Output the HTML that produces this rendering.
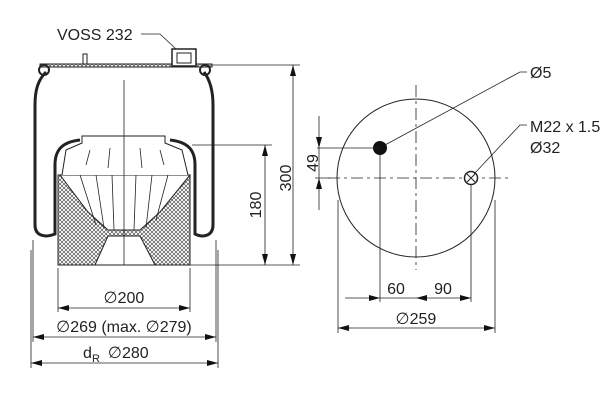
<!DOCTYPE html>
<html><head><meta charset="utf-8"><style>body{margin:0;background:#fff}svg{display:block}text{font-family:"Liberation Sans","DejaVu Sans",sans-serif;fill:#222}</style></head><body>
<svg width="600" height="400" viewBox="0 0 600 400" xmlns="http://www.w3.org/2000/svg">
<defs>
<pattern id="h" width="4" height="4" patternUnits="userSpaceOnUse"><path d="M0 0L4 4M4 0L0 4" stroke="#333" stroke-width="0.6"/></pattern>
</defs>
<g stroke="#222" fill="none">
<!-- piston hatched -->
<path d="M58 175 L190 175 L190 265 L58 265 Z" fill="url(#h)" stroke-width="1"/>
<path d="M60 175 L190 175 L160 212 L140 230 L108 230 L88 212 Z" fill="#fff" stroke-width="1"/>
<path d="M95 265 L108 236 L140 236 L155 265 Z" fill="#fff" stroke-width="1"/>
<path d="M62 175 L66 150 L82 143 L82 136 L165 136 L165 143 L182 150 L188 175" fill="#fff" stroke-width="1"/>
<path d="M80 175L96 225M96 175L104 228M112 175L114 230M136 175L134 230M152 175L146 228M168 175L156 220M90 150L86 165M110 148L108 168M140 148L142 168M160 150L164 165" stroke-width="0.8"/>
<!-- bellows -->
<path d="M46 72 C38 80,35 90,35 105 L35 225 C35 236,45 238,55 234 L55 165 C55 150,62 142,80 140" stroke-width="3"/>
<path d="M204 72 C210 80,213 90,213 105 L213 225 C213 236,203 238,195 234 L195 165 C195 150,188 142,170 140" stroke-width="3"/>
<circle cx="44" cy="70" r="5" stroke-width="2"/><circle cx="205" cy="70" r="5" stroke-width="2"/>
<!-- top plate -->
<rect x="40" y="64" width="172" height="3" stroke-width="1" fill="url(#h)"/>
<rect x="172" y="49" width="24" height="17" stroke-width="1.5" fill="#fff"/>
<rect x="177" y="53" width="14" height="10" stroke-width="1"/>
<rect x="83" y="54" width="4" height="10" stroke-width="1"/>
<path d="M141 34 L160 34 L176 49" stroke-width="0.8"/>
<!-- center line -->
<path d="M124 80 L124 265" stroke-width="0.8"/>
<!-- height dims -->
<path d="M212 65 L300 65M192 145 L272 145M190 265 L300 265" stroke-width="0.8"/>
<path d="M293 65 L293 265M265 145 L265 265" stroke-width="0.8"/>
<!-- bottom dims -->
<path d="M58 268 L58 312M190 268 L190 312M33 240 L33 342M216 240 L216 342M31 250 L31 368M218 250 L218 368" stroke-width="0.8"/>
<path d="M58 308 L190 308M33 337 L216 337M31 363 L218 363" stroke-width="0.8"/>
<!-- right view -->
<circle cx="416" cy="178" r="79" stroke-width="1"/>
<path d="M416 85 L416 270M328 178 L510 178" stroke-width="0.8" stroke-dasharray="12 4 3 4"/>
<circle cx="380" cy="148" r="7" fill="#111" stroke="none"/>
<circle cx="471" cy="178" r="6.5" stroke-width="1.5" fill="#fff"/><path d="M467 174L475 182M475 174L467 182" stroke-width="1"/>
<path d="M385 145 L520 72 L527 72M474 174 L520 125 L527 125" stroke-width="0.8"/>
<path d="M317 148 L380 148M315 178 L330 178M380 155 L380 302M471 185 L471 302M338 200 L338 333M495 200 L495 333" stroke-width="0.8"/>
<path d="M319 116 L319 210" stroke-width="0.8"/>
<path d="M345 298 L471 298" stroke-width="0.8"/>
<path d="M338 328 L495 328" stroke-width="0.8"/>
</g>
<g fill="#111">
<!-- 300 -->
<polygon points="293,65 290,76 296,76"/><polygon points="293,265 290,254 296,254"/>
<!-- 180 -->
<polygon points="265,145 262,156 268,156"/><polygon points="265,265 262,254 268,254"/>
<!-- 200 -->
<polygon points="58,308 69,305 69,311"/><polygon points="190,308 179,305 179,311"/>
<!-- 269 -->
<polygon points="33,337 44,334 44,340"/><polygon points="216,337 205,334 205,340"/>
<!-- 280 -->
<polygon points="31,363 42,360 42,366"/><polygon points="218,363 207,360 207,366"/>
<!-- 49 -->
<polygon points="319,148 316,137 322,137"/><polygon points="319,178 316,189 322,189"/>
<!-- 60/90 -->
<polygon points="380,298 369,295 369,301"/><polygon points="416,298 427,295 427,301"/><polygon points="471,298 460,295 460,301"/>
<!-- 259 -->
<polygon points="338,328 349,325 349,331"/><polygon points="495,328 484,325 484,331"/>
</g>
<g font-size="16">
<text x="57" y="40">VOSS 232</text>
<text transform="translate(291,178) rotate(-90)" text-anchor="middle">300</text>
<text transform="translate(261,205) rotate(-90)" text-anchor="middle">180</text>
<text x="124" y="303" text-anchor="middle">∅200</text>
<text x="124" y="332" text-anchor="middle">∅269 (max. ∅279)</text>
<text x="83" y="358">d</text><text x="92" y="362" font-size="11">R</text><text x="108" y="358">∅280</text>
<text x="530" y="78">Ø5</text>
<text x="530" y="132">M22 x 1.5</text>
<text x="530" y="153">Ø32</text>
<text transform="translate(318,163) rotate(-90)" text-anchor="middle">49</text>
<text x="396" y="294" text-anchor="middle">60</text>
<text x="443" y="294" text-anchor="middle">90</text>
<text x="416" y="324" text-anchor="middle">∅259</text>
</g>
</svg>
</body></html>
